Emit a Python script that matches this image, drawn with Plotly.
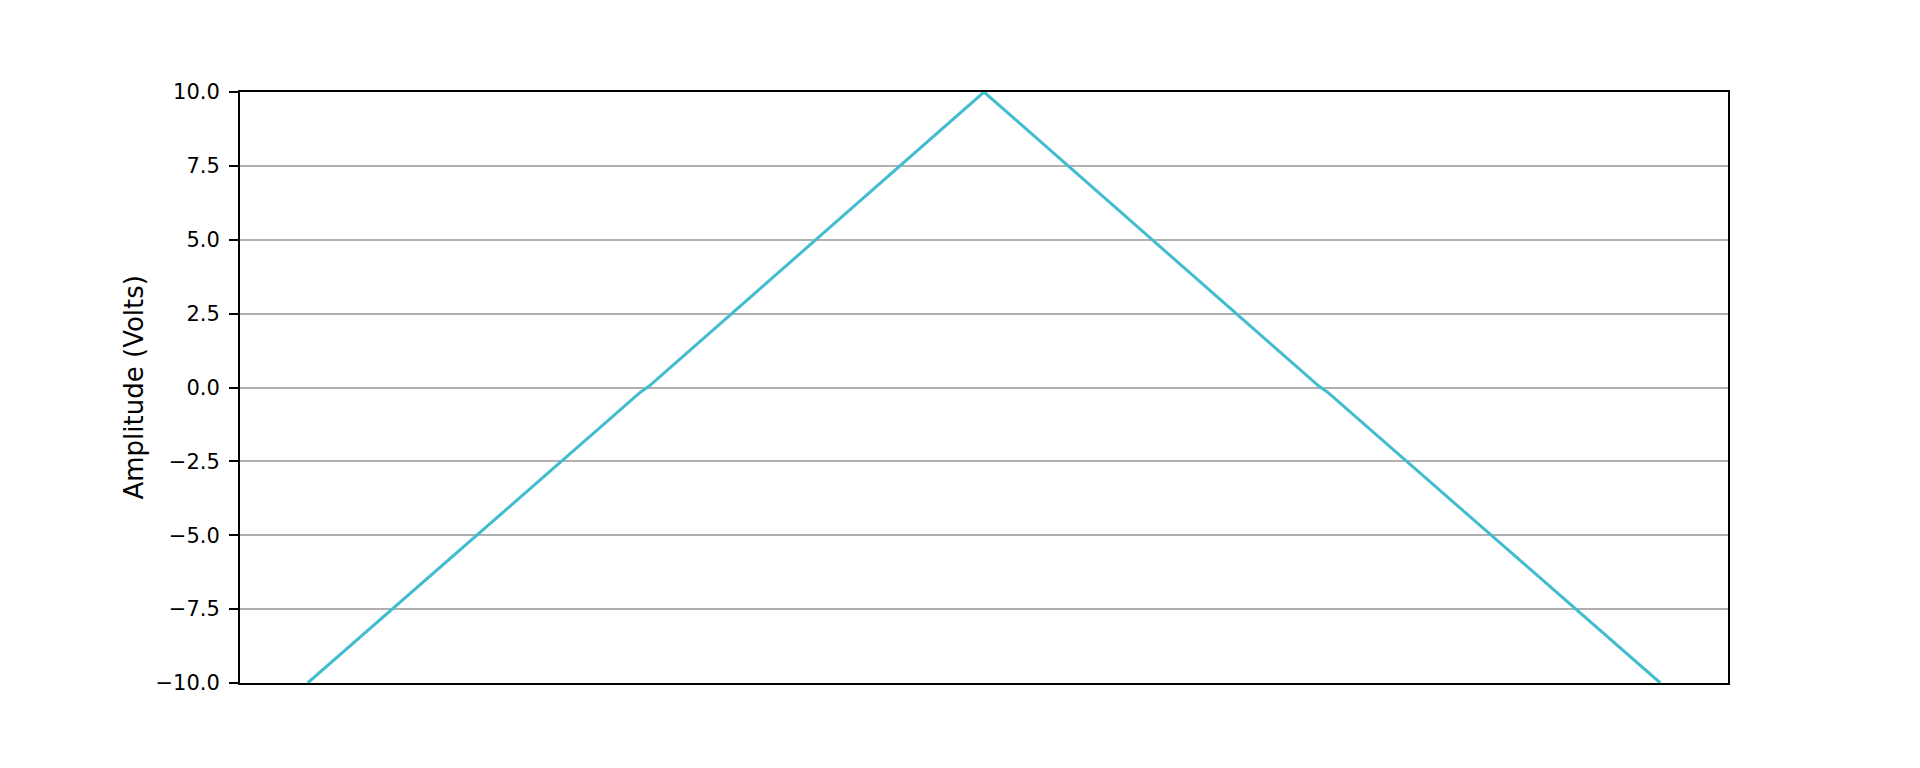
import plotly.graph_objects as go

# Triangle wave samples (time in arbitrary units, amplitude in volts)
time = [0.0, 0.985, 1.01, 2.0, 2.99, 3.015, 4.0]
amplitude = [-10.0, -0.15, 0.05, 10.0, 0.05, -0.15, -10.0]

y_ticks = [-10.0, -7.5, -5.0, -2.5, 0.0, 2.5, 5.0, 7.5, 10.0]
y_title = "Amplitude (Volts)"

FONT = "DejaVu Sans, sans-serif"

fig = go.Figure()
fig.add_trace(go.Scatter(
    x=time, y=amplitude, mode="lines",
    line=dict(color="#42bccf", width=3),
    showlegend=False, hoverinfo="skip",
))

span = time[-1] - time[0]
fig.update_layout(
    width=1920, height=768,
    margin=dict(l=232, r=200, t=84, b=93),
    paper_bgcolor="white", plot_bgcolor="white",
    font=dict(family=FONT, size=21, color="black"),
    xaxis=dict(
        range=[time[0] - 0.05 * span, time[-1] + 0.05 * span],
        showticklabels=False, ticks="", showgrid=False, zeroline=False,
        showline=True, linecolor="black", linewidth=2, mirror=True,
    ),
    yaxis=dict(
        range=[-10, 10],
        tickvals=y_ticks, tickformat=".1f",
        ticks="outside", ticklen=9, tickwidth=2, tickcolor="black",
        ticklabelstandoff=5,
        showgrid=True, gridcolor="#b0b0b0", gridwidth=1.6,
        zeroline=False,
        showline=True, linecolor="black", linewidth=2, mirror=True,
        tickfont=dict(family=FONT, size=21, color="black"),
    ),
    annotations=[dict(
        text=y_title, textangle=-90, xref="paper", yref="paper",
        x=(133 - 240) / 1488, y=0.5, xanchor="center", yanchor="middle",
        showarrow=False, font=dict(family=FONT, size=26, color="black"),
    )],
)

fig.write_html("out.html")
